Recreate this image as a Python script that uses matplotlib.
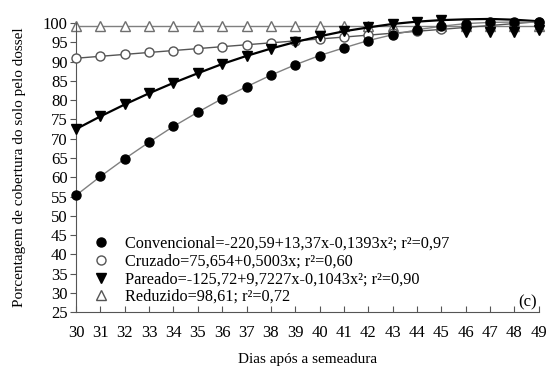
import matplotlib.pyplot as plt
from matplotlib.lines import Line2D

plt.rcParams['font.family'] = ['Liberation Serif', 'DejaVu Serif']

dias = list(range(30, 50))

convencional = [55.3, 60.2, 64.8, 69.1, 73.2, 76.9, 80.4, 83.5, 86.5, 89.2,
                91.6, 93.6, 95.5, 97.0, 98.3, 99.2, 99.9, 100.2, 100.3, 100.2]
cruzado = [90.9, 91.4, 91.9, 92.4, 92.9, 93.4, 93.9, 94.4, 94.9, 95.4,
           95.9, 96.4, 96.9, 97.4, 97.9, 98.4, 98.9, 99.4, 99.9, 100.4]
# fitted line and the plotted points differ at the last days
pareado_linha = [72.5, 75.8, 78.9, 81.8, 84.5, 87.0, 89.4, 91.5, 93.4, 95.1,
                 96.6, 97.9, 98.9, 99.8, 100.4, 100.8, 101.0, 101.1, 100.9, 100.5]
pareado_pontos = [72.5, 75.8, 78.9, 81.8, 84.5, 87.0, 89.4, 91.5, 93.4, 95.1,
                  96.6, 97.9, 98.9, 99.8, 100.4, 100.8, 97.6, 97.6, 97.6, 98.2]
reduzido = [99.2] * 20

rotulos = [
    "Convencional=-220,59+13,37x-0,1393x²; r²=0,97",
    "Cruzado=75,654+0,5003x; r²=0,60",
    "Pareado=-125,72+9,7227x-0,1043x²; r²=0,90",
    "Reduzido=98,61; r²=0,72",
]

fig = plt.figure(figsize=(5.47, 3.68), dpi=100)
ax = fig.add_axes([0.139, 0.152, 0.846, 0.785])

ms = 6.5
ax.plot(dias, reduzido, color="#7f7f7f", lw=1, clip_on=False,
        marker="^", ms=ms, mfc="white", mec="#6f6f6f", zorder=2)
ax.plot(dias, cruzado, color="#555555", lw=1, clip_on=False,
        marker="o", ms=ms, mfc="white", mec="#555555", zorder=3)
ax.plot(dias, pareado_linha, color="black", lw=1.6, clip_on=False, zorder=4)
ax.plot(dias, pareado_pontos, ls="none", clip_on=False,
        marker="v", ms=ms, color="black", zorder=5)
ax.plot(dias, convencional, color="#808080", lw=1, clip_on=False,
        marker="o", ms=ms, mfc="black", mec="black", zorder=4)

handles = [
    Line2D([], [], ls="none", marker="o", ms=ms, mfc="black", mec="black"),
    Line2D([], [], ls="none", marker="o", ms=ms, mfc="white", mec="#555555"),
    Line2D([], [], ls="none", marker="v", ms=ms, color="black"),
    Line2D([], [], ls="none", marker="^", ms=ms, mfc="white", mec="#555555"),
]
ax.legend(handles, rotulos, loc="lower left", bbox_to_anchor=(0.005, 0.002),
          frameon=False, fontsize=11.7, handletextpad=0.5, labelspacing=0.1,
          borderaxespad=0)

ax.text(0.995, 0.005, "(c)", transform=ax.transAxes, ha="right", va="bottom",
        fontsize=12)

ax.set_xlim(30, 49)
ax.set_ylim(25, 100)
ax.set_xticks(dias)
ax.set_yticks(range(25, 101, 5))
ax.spines["top"].set_visible(False)
ax.spines["right"].set_visible(False)
ax.spines["left"].set_color("#555555")
ax.spines["bottom"].set_color("#555555")
ax.tick_params(axis="x", direction="in", length=4, labelsize=12, pad=9,
               color="#555555")
ax.tick_params(axis="y", direction="out", length=4, labelsize=12, pad=2,
               color="#555555")

ax.set_xlabel("Dias após a semeadura", fontsize=11, labelpad=9)
ax.set_ylabel("Porcentagem de cobertura do solo pelo dossel", fontsize=11,
              labelpad=12)

fig.savefig("out.png", dpi=100)
